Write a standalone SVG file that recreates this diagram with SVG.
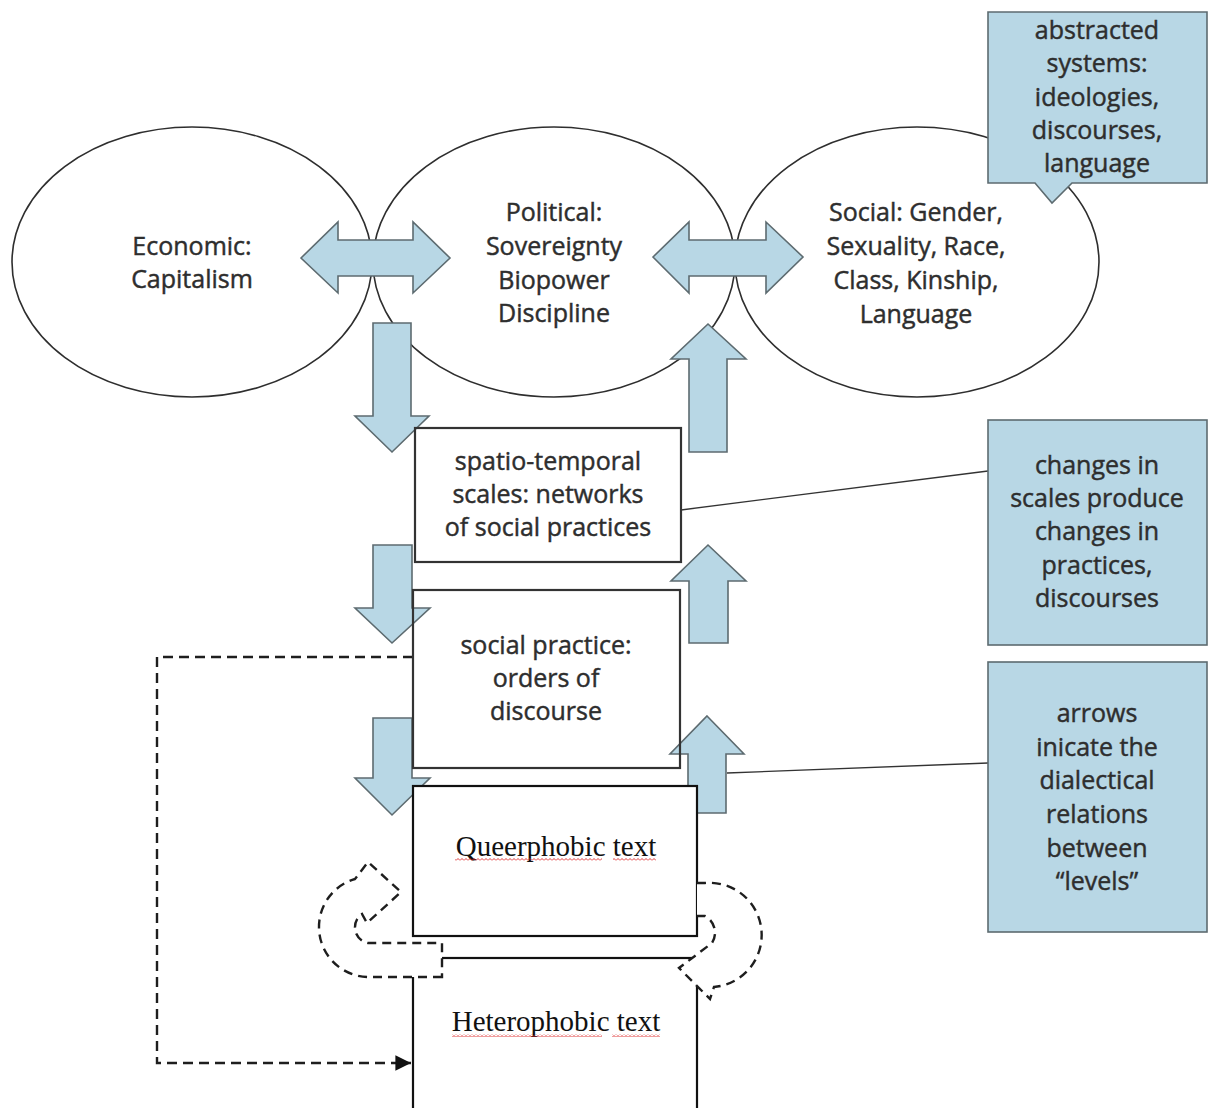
<svg xmlns="http://www.w3.org/2000/svg" width="1208" height="1108" viewBox="0 0 1208 1108">
<style>
  .ell{fill:#fff;stroke:#2e2e2e;stroke-width:1.6}
  .blue{fill:#b8d7e5;stroke:#5d6b70;stroke-width:1.6}
  .box{fill:none;stroke:#333;stroke-width:2.2}
  .lbl{font-family:"Open Sans","Noto Sans","Liberation Sans",sans-serif;font-size:25px;fill:#2e2e2e;stroke:#2e2e2e;stroke-width:0.45;text-anchor:middle}
  .ser{font-family:"Liberation Serif","Times New Roman",serif;font-size:29px;fill:#111;text-anchor:middle}
  .dash{fill:#fff;stroke:#1e1e1e;stroke-width:2.4;stroke-dasharray:9 6}
  .dline{fill:none;stroke:#1e1e1e;stroke-width:2.4;stroke-dasharray:10 6}
  .thin{fill:none;stroke:#333;stroke-width:1.3}
</style>
<defs>
  <marker id="ah" viewBox="0 0 10 10" refX="10" refY="5" markerWidth="6.5" markerHeight="6.5" markerUnits="strokeWidth" orient="auto">
    <path d="M0,0 L10,5 L0,10 Z" fill="#111"/>
  </marker>
  <pattern id="squig" width="4" height="3" patternUnits="userSpaceOnUse">
    <path d="M0,2.5 L2,0.5 L4,2.5" fill="none" stroke="#d22" stroke-width="0.9"/>
  </pattern>
</defs>

<g id="economic">
  <ellipse class="ell" cx="192" cy="262" rx="180" ry="135"/>
  <text class="lbl" x="192" y="255">Economic:</text>
  <text class="lbl" x="192" y="288">Capitalism</text>
</g>
<g id="political">
  <ellipse class="ell" cx="554" cy="262" rx="181" ry="135"/>
  <text class="lbl" x="554" y="221">Political:</text>
  <text class="lbl" x="554" y="255">Sovereignty</text>
  <text class="lbl" x="554" y="289">Biopower</text>
  <text class="lbl" x="554" y="322">Discipline</text>
</g>
<g id="social">
  <ellipse class="ell" cx="917" cy="262" rx="182" ry="135"/>
  <text class="lbl" x="916" y="221">Social: Gender,</text>
  <text class="lbl" x="916" y="255">Sexuality, Race,</text>
  <text class="lbl" x="916" y="289">Class, Kinship,</text>
  <text class="lbl" x="916" y="323">Language</text>
</g>

<g id="callout-abstracted">
  <path class="blue" d="M988,12 H1207 V183 H1072 L1052,203 L1035,183 H988 Z"/>
  <text class="lbl" x="1097" y="39">abstracted</text>
  <text class="lbl" x="1097" y="72">systems:</text>
  <text class="lbl" x="1097" y="106">ideologies,</text>
  <text class="lbl" x="1097" y="139">discourses,</text>
  <text class="lbl" x="1097" y="172">language</text>
</g>

<g id="connectors">
  <polygon id="da1" class="blue" points="301,258 338,222 338,240 413,240 413,222 450,258 413,293 413,276 338,276 338,293"/>
  <polygon id="da2" class="blue" points="653,257 689,222 689,240 766,240 766,222 803,257 766,293 766,276 689,276 689,293"/>
  <polygon id="down1" class="blue" points="373,323 411,323 411,416 429,416 392,452 355,416 373,416"/>
  <polygon id="up1" class="blue" points="708,324 746,359 727,359 727,452 689,452 689,359 671,359"/>
  <polygon id="down2" class="blue" points="373,545 412,545 412,608 430,608 392,643 355,608 373,608"/>
  <polygon id="up2" class="blue" points="708,545 746,581 728,581 728,643 689,643 689,581 671,581"/>
  <polygon id="down3" class="blue" points="373,718 412,718 412,778 430,778 392,815 355,778 373,778"/>
  <polygon id="up3" class="blue" points="707,716 744,754 726,754 726,813 688,813 688,754 670,754"/>
  <line class="thin" x1="681" y1="510" x2="988" y2="471"/>
  <line class="thin" x1="727" y1="773" x2="988" y2="763"/>
  <path class="dline" d="M413,657 H157 V1063 H411" marker-end="url(#ah)"/>
</g>

<g id="spatio">
  <rect class="box" x="415" y="428" width="266" height="134"/>
  <text class="lbl" x="548" y="470">spatio-temporal</text>
  <text class="lbl" x="548" y="503">scales: networks</text>
  <text class="lbl" x="548" y="536">of social practices</text>
</g>
<g id="practice">
  <rect class="box" x="413" y="590" width="267" height="178"/>
  <text class="lbl" x="546" y="654">social practice:</text>
  <text class="lbl" x="546" y="687">orders of</text>
  <text class="lbl" x="546" y="720">discourse</text>
</g>

<g id="heterophobic">
  <rect x="413" y="958" width="284" height="170" fill="#fff" stroke="#111" stroke-width="2.2"/>
  <text class="ser" x="556" y="1031">Heterophobic text</text>
  <rect x="452" y="1034" width="150" height="3" fill="url(#squig)"/>
  <rect x="612" y="1034" width="48" height="3" fill="url(#squig)"/>
</g>
<g id="queerphobic">
  <rect x="413" y="786" width="284" height="150" fill="#fff" stroke="#111" stroke-width="2.2"/>
  <text class="ser" x="556" y="856">Queerphobic text</text>
  <rect x="455" y="858" width="147" height="3" fill="url(#squig)"/>
  <rect x="613" y="858" width="43" height="3" fill="url(#squig)"/>
</g>

<g id="loop-left">
  <path class="dash" d="M442,977 L370,977 A50,50 0 0 1 355,879 L368,862 L401,892 L367,923 L362,914 A16,16 0 0 0 368,943 L442,943 Z"/>
</g>
<g id="loop-right">
  <path class="dash" d="M697,883 L705,883 A52,52 0 0 1 714,987 L710,999 L679,968 L712,943 A19,19 0 0 0 705,916 L697,916"/>
</g>

<g id="callout-changes">
  <rect class="blue" x="988" y="420" width="219" height="225"/>
  <text class="lbl" x="1097" y="474">changes in</text>
  <text class="lbl" x="1097" y="507">scales produce</text>
  <text class="lbl" x="1097" y="540">changes in</text>
  <text class="lbl" x="1097" y="574">practices,</text>
  <text class="lbl" x="1097" y="607">discourses</text>
</g>
<g id="callout-arrows">
  <rect class="blue" x="988" y="662" width="219" height="270"/>
  <text class="lbl" x="1097" y="722">arrows</text>
  <text class="lbl" x="1097" y="756">inicate the</text>
  <text class="lbl" x="1097" y="789">dialectical</text>
  <text class="lbl" x="1097" y="823">relations</text>
  <text class="lbl" x="1097" y="857">between</text>
  <text class="lbl" x="1097" y="890">“levels”</text>
</g>
</svg>
